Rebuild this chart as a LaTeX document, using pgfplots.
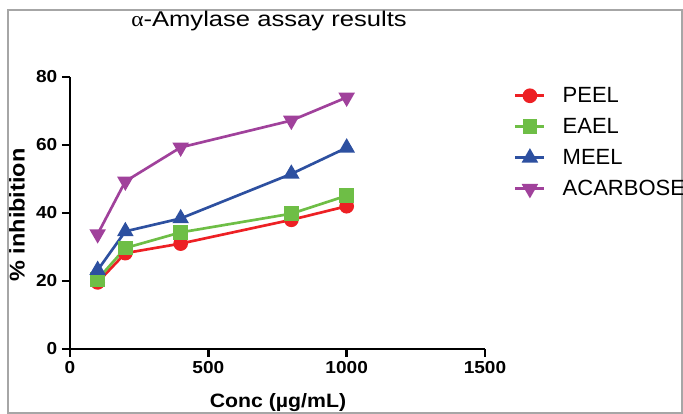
\documentclass[border=0pt]{standalone}
\usepackage{fontspec}
\setmainfont{Liberation Sans}[FakeStretch=1.1]
\newfontfamily\titlefont{Liberation Sans}[FakeStretch=1.2]
\newfontfamily\greekfont{Liberation Serif}[FakeStretch=1.1]
\newfontfamily\legfont{Liberation Sans}
\usepackage{pgfplots}
\pgfplotsset{compat=1.18}
\definecolor{cRed}{RGB}{237,32,36}
\definecolor{cGreen}{RGB}{110,190,70}
\definecolor{cBlue}{RGB}{45,80,160}
\definecolor{cPurple}{RGB}{160,65,155}
\begin{document}
\begin{tikzpicture}
\path[use as bounding box] (0,0) rectangle (512.25pt,310.5pt);
\draw[gray!70, line width=0.9pt] (6pt,0.75pt) rectangle (511.5pt,303pt);
\node[anchor=center, font=\titlefont\fontsize{16}{19}\selectfont] at (201.75pt,294.75pt) {{\greekfont α}-Amylase assay results};
\node[anchor=center, rotate=90, font=\bfseries\fontsize{16}{19}\selectfont] at (12.75pt,149.25pt) {\% inhibition};
\node[anchor=center, font=\bfseries\fontsize{14.5}{17}\selectfont] at (208.5pt,8.5pt) {Conc (µg/mL)};
\begin{axis}[
  at={(52.5pt,48.75pt)}, anchor=origin,
  scale only axis, width=311.25pt, height=204pt,
  xmin=0, xmax=1500, ymin=0, ymax=80,
  axis x line=bottom, axis y line=left,
  axis line style={-, line width=1.9pt, black},
  xtick={0,500,1000,1500}, ytick={0,20,40,60,80},
  tick align=outside, major tick length=6pt,
  every tick/.style={black, line width=1.9pt},
  tick label style={font=\bfseries\fontsize{13}{15}\selectfont},
  /pgf/number format/assume math mode=true,
  /pgf/number format/1000 sep={},
  clip=false,
  legend style={at={(1.070,0.988)}, anchor=north west, draw=none, fill=none,
    inner sep=0pt, outer sep=0pt, row sep=0pt,
    font=\legfont\fontsize{16.5}{19}\selectfont,
    nodes={inner sep=0pt, anchor=west, minimum height=23.25pt}},
  legend cell align=left,
  legend image code/.code={%
    \draw[mark repeat=2, mark phase=2] plot coordinates {(0pt,0pt) (10.9pt,0pt) (21.75pt,0pt)};
    \path (34.5pt,0pt);},
  every axis plot/.append style={line width=2pt},
]
\addplot[cRed, mark=*, mark size=4.5pt, mark options={solid}] coordinates {(100,19.6) (200,28.2) (400,31.0) (800,38.0) (1000,42.0)};
\addlegendentry{PEEL}
\addplot[cGreen, mark=square*, mark size=4.5pt] coordinates {(100,20.5) (200,29.7) (400,34.3) (800,39.8) (1000,45.1)};
\addlegendentry{EAEL}
\addplot[cBlue, mark=triangle*, mark size=5.2pt] coordinates {(100,23.2) (200,34.6) (400,38.4) (800,51.5) (1000,59.2)};
\addlegendentry{MEEL}
\addplot[cPurple, mark=triangle*, mark size=5.2pt, mark options={rotate=180}] coordinates {(100,33.8) (200,49.3) (400,59.3) (800,67.2) (1000,74.0)};
\addlegendentry{ACARBOSE}
\end{axis}
\end{tikzpicture}
\end{document}
